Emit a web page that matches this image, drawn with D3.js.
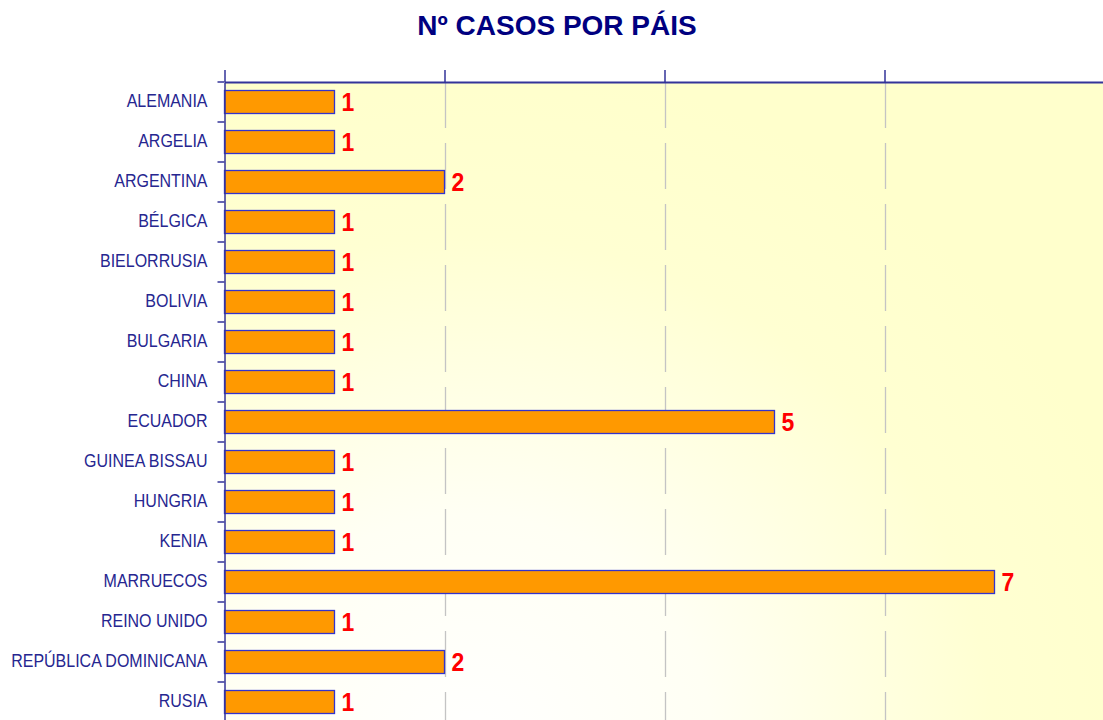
<!DOCTYPE html>
<html><head><meta charset="utf-8">
<script src="https://cdn.jsdelivr.net/npm/d3@7"></script>
<style>
html,body{margin:0;padding:0;background:#fff;overflow:hidden;}
svg{display:block;font-family:"Liberation Sans",Arial,sans-serif;}
</style></head>
<body>
<svg id="chart" width="1103" height="720"></svg>
<script>
const title = "Nº CASOS POR PÁIS";
const categories = ["ALEMANIA","ARGELIA","ARGENTINA","BÉLGICA","BIELORRUSIA","BOLIVIA","BULGARIA","CHINA","ECUADOR","GUINEA BISSAU","HUNGRIA","KENIA","MARRUECOS","REINO UNIDO","REPÚBLICA DOMINICANA","RUSIA"];
const values = [1,1,2,1,1,1,1,1,5,1,1,1,7,1,2,1];
const xTicks = [0,2,4,6];
const xMax = 8;

(function(){
const svg = d3.select("#chart");
const pL = 224.5, pR = 1104.5, pT = 82, pB = 722;

const x = d3.scaleLinear().domain([0, xMax]).range([pL, pR]);
const y = d3.scaleBand().domain(categories).range([pT, pB]).paddingInner(0.4).paddingOuter(0.2);

// background gradient
const defs = svg.append("defs");
const rg = defs.append("radialGradient").attr("id","bg").attr("gradientUnits","userSpaceOnUse")
  .attr("cx",470).attr("cy",760).attr("r",700);
rg.append("stop").attr("offset","0").attr("stop-color","#ffffff");
rg.append("stop").attr("offset","0.35").attr("stop-color","#fffff4");
rg.append("stop").attr("offset","0.75").attr("stop-color","#ffffd2");
rg.append("stop").attr("offset","1").attr("stop-color","#ffffcc");

svg.append("rect").attr("x",pL).attr("y",pT).attr("width",pR-pL).attr("height",pB-pT).attr("fill","url(#bg)");

// title
svg.append("text").attr("x",557).attr("y",35).attr("text-anchor","middle")
  .attr("font-size",28).attr("font-weight","bold").attr("fill","#000080").text(title);

// gridlines
svg.append("g").selectAll("line").data(xTicks.filter(d=>d>0)).join("line")
  .attr("x1",d=>Math.round(x(d))+0.5).attr("x2",d=>Math.round(x(d))+0.5)
  .attr("y1",pT).attr("y2",pB)
  .attr("stroke","#c4c4c4").attr("stroke-width",1.3).attr("stroke-dasharray","46,15");

// bars
svg.append("g").selectAll("rect").data(categories).join("rect")
  .attr("x",x(0)).attr("y",d=>y(d)+0.5)
  .attr("width",(d,i)=>x(values[i])-x(0)).attr("height",y.bandwidth()-1)
  .attr("fill","#ff9900").attr("stroke","#3333cc").attr("stroke-width",1.3);

// value labels
svg.append("g").selectAll("text").data(categories).join("text")
  .attr("transform",(d,i)=>`translate(${x(values[i])+7},${y(d)+y.bandwidth()/2+9}) scale(1,1.1)`)
  .attr("font-size",23).attr("font-weight","bold").attr("fill","#ff0000")
  .text((d,i)=>values[i]);

// top axis
const topAxis = d3.axisTop(x).tickValues(xTicks).tickSize(12).tickSizeOuter(0).tickFormat("");
const gt = svg.append("g").attr("transform",`translate(0,${pT})`).call(topAxis);
gt.select(".domain").attr("stroke","#333399").attr("stroke-width",2);
gt.selectAll(".tick line").attr("stroke","#333399").attr("stroke-width",1.5);

// left axis (labels)
const leftAxis = d3.axisLeft(y).tickSize(0).tickPadding(17).tickSizeOuter(0);
const gl = svg.append("g").attr("transform",`translate(${pL},0)`).call(leftAxis);
gl.select(".domain").attr("stroke","#333399").attr("stroke-width",1.5);
gl.selectAll(".tick text").attr("font-size",16).attr("fill","#262690")
  .attr("font-family","'Liberation Sans',Arial,sans-serif")
  .attr("dy",null)
  .each(function(){
    const t = d3.select(this);
    t.attr("transform","translate(0,4.5) scale(1,1.2)").attr("y",0);
  });

// category boundary ticks
const half = (y.step()-y.bandwidth())/2;
svg.append("g").selectAll("line").data(categories).join("line")
  .attr("x1",pL-7).attr("x2",pL)
  .attr("y1",d=>y(d)-half).attr("y2",d=>y(d)-half)
  .attr("stroke","#333399").attr("stroke-width",1.5);
})();
</script>
</body></html>
